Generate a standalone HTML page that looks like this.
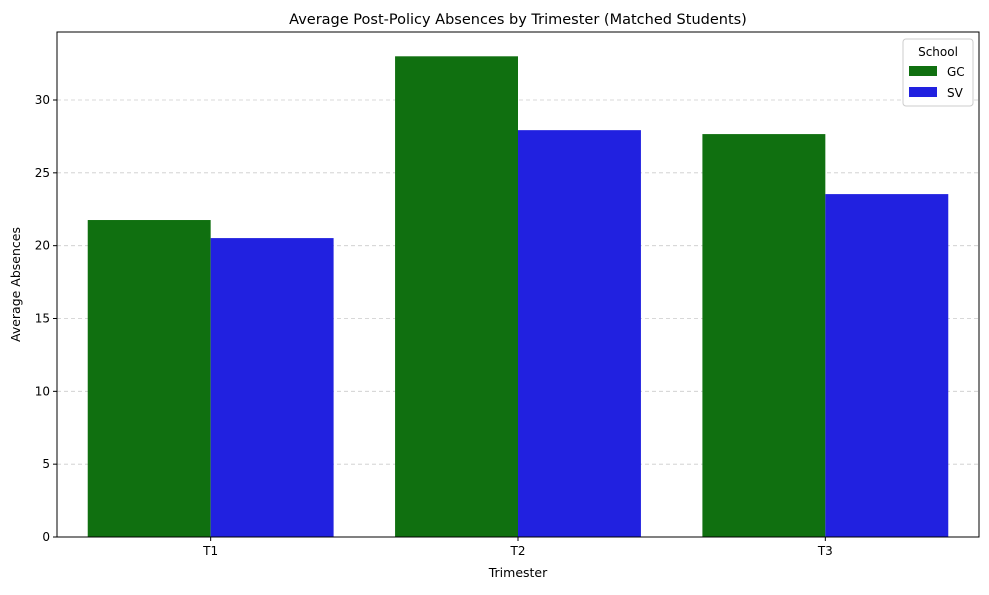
<!DOCTYPE html>
<html><head><meta charset="utf-8"><style>
body{margin:0;background:#fff;font-family:"Liberation Sans","DejaVu Sans",sans-serif;}
</style></head><body>
<svg id="chart" width="989" height="590" xmlns="http://www.w3.org/2000/svg" font-family="'DejaVu Sans','Liberation Sans',sans-serif">
<g id="grid"></g><g id="bars"></g><g id="axes"></g>
</svg>
<script>
const categories=["T1","T2","T3"];
const seriesNames=["GC","SV"];
const gcValues=[21.76,33.0,27.66];
const svValues=[20.52,27.93,23.54];
const yTicks=[0,5,10,15,20,25,30];
const colors=["#107010","#2121e0"];
const NS="http://www.w3.org/2000/svg";
const L=57,R=979,T=32,B=537;
const yScale=v=>B-v*(B-100)/30;
const band=(R-L)/categories.length;
const xCenter=i=>L+band*(i+0.5);
function mk(tag,attrs,parent,text){const e=document.createElementNS(NS,tag);for(const k in attrs)e.setAttribute(k,attrs[k]);if(text!==undefined)e.textContent=text;parent.appendChild(e);return e;}
const grid=document.getElementById('grid'),bars=document.getElementById('bars'),axes=document.getElementById('axes');
yTicks.forEach(t=>{const y=yScale(t);
 if(t>0){const g=mk('line',{x1:L,x2:R,y1:y,y2:y,stroke:'#ccc','stroke-dasharray':'4,3','stroke-width':0.8},grid);
 
 }
 mk('line',{x1:L-4,x2:L,y1:y,y2:y,stroke:'#000'},axes);
 const lb=mk('text',{x:L-7,y:y+4,'text-anchor':'end','font-size':12},axes,String(t));
 
 
});
const bw=band*0.8/2;
[gcValues,svValues].forEach((vals,s)=>{vals.forEach((v,i)=>{
 const x=xCenter(i)-bw+s*bw;
 const r=mk('rect',{x:x,y:yScale(v),width:bw,height:B-yScale(v),fill:colors[s]},bars);
 
 
});});
categories.forEach((c,i)=>{const x=xCenter(i);
 mk('line',{x1:x,x2:x,y1:B,y2:B+4,stroke:'#000'},axes);
 const lb=mk('text',{x:x,y:B+18,'text-anchor':'middle','font-size':12},axes,c);
 
 
});
mk('rect',{x:L,y:T,width:R-L,height:B-T,fill:'none',stroke:'#000','stroke-width':1},axes);
const tt=mk('text',{x:(L+R)/2,y:24,'text-anchor':'middle','font-size':14.5},axes,'Average Post-Policy Absences by Trimester (Matched Students)');


const xt=mk('text',{x:(L+R)/2,y:577,'text-anchor':'middle','font-size':12.5},axes,'Trimester');


const yt=mk('text',{x:20,y:(T+B)/2,'text-anchor':'middle','font-size':12.5,transform:'rotate(-90 20 '+((T+B)/2)+')'},axes,'Average Absences');


const lg=mk('g',{},axes);


mk('rect',{x:903,y:39,width:70,height:67,rx:3,fill:'#fff',stroke:'#ccc'},lg);
mk('text',{x:938,y:56,'text-anchor':'middle','font-size':12},lg,'School');
seriesNames.forEach((n,s)=>{const y=66+s*21;
 const p=mk('rect',{x:909,y:y,width:28,height:10,fill:colors[s]},lg);
 
 
 const t=mk('text',{x:947,y:y+10,'font-size':12},lg,n);
 
 
});
</script>
</body></html>
